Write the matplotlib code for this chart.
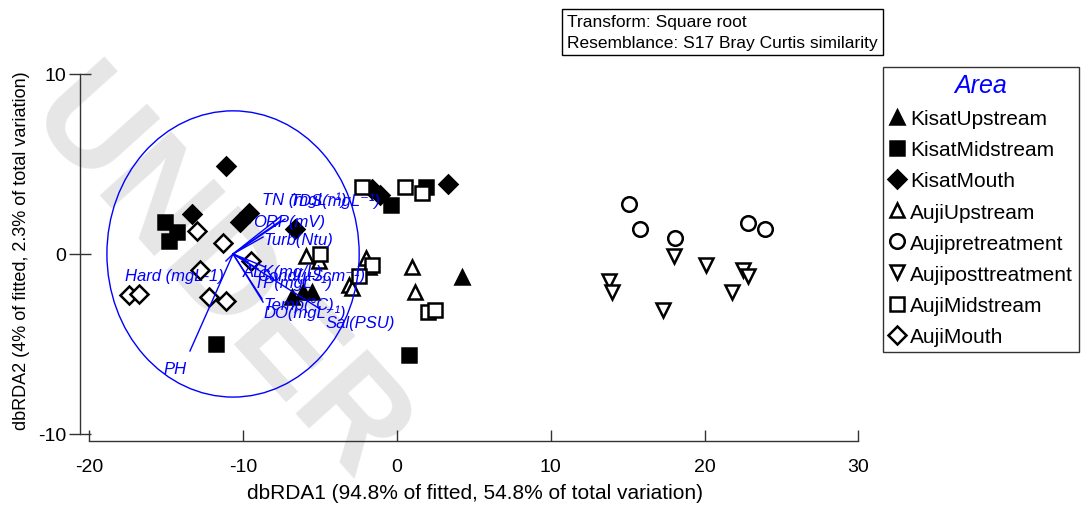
import matplotlib
matplotlib.use("Agg")
import matplotlib.pyplot as plt
from matplotlib.patches import Ellipse

plt.rcParams['font.family'] = ['Liberation Sans', 'DejaVu Sans']
plt.rcParams['axes.unicode_minus'] = False

# sample scores on dbRDA1 / dbRDA2
kisat_up_x = [4.2, -6.8, -6.1, -5.5]
kisat_up_y = [-1.3, -2.4, -2.1, -2.1]
kisat_mid_x = [-15.1, -14.3, -14.8, -11.8, -0.4, 1.9, 0.8]
kisat_mid_y = [1.8, 1.2, 0.7, -5.0, 2.7, 3.7, -5.6]
kisat_mouth_x = [-11.1, -13.3, -10.2, -9.6, -6.6, -1.6, -1.1, 3.3]
kisat_mouth_y = [4.9, 2.2, 1.8, 2.3, 1.4, 3.6, 3.3, 3.9]
auji_up_x = [-5.9, -5.1, -2.0, -3.1, -2.9, -1.8, 1.0, 1.2]
auji_up_y = [-0.1, -0.4, -0.2, -1.7, -1.9, -0.7, -0.7, -2.1]
auji_pre_x = [15.1, 15.8, 18.1, 22.8, 23.9]
auji_pre_y = [2.8, 1.4, 0.9, 1.7, 1.4]
auji_post_x = [18.0, 20.1, 13.8, 14.0, 17.3, 21.8, 22.5, 22.8]
auji_post_y = [-0.1, -0.6, -1.5, -2.1, -3.1, -2.1, -0.9, -1.2]
auji_mid_x = [-5.0, -1.6, -2.5, -2.3, 0.5, 1.6, 2.0, 2.5]
auji_mid_y = [0.0, -0.6, -1.2, 3.7, 3.7, 3.4, -3.2, -3.1]
auji_mouth_x = [-17.4, -16.8, -13.0, -11.3, -12.8, -12.2, -11.1, -9.5]
auji_mouth_y = [-2.3, -2.2, 1.3, 0.6, -0.9, -2.4, -2.6, -0.4]

# environmental vectors (relative to vector origin) and their labels
vec_names = ['TN (mgL⁻¹)', 'TDS(mgL⁻¹)', 'ORP(mV)', 'Turb(Ntu)', 'ALK(mg/L)',
             'Cond(µScm⁻¹)', 'TP(mgL⁻¹)', 'Temp(°C)', 'DO(mgL⁻¹)', 'Sal(PSU)',
             'Hard (mgL-1)', 'PH']
vec_dx = [3.06, 3.38, 3.06, 1.95, 0.98, 2.08, 1.63, 1.89, 1.95, 5.66, -0.46, -2.8]
vec_dy = [2.06, 1.94, 1.83, 0.94, -0.44, -0.72, -0.83, -2.5, -2.67, -3.06, -0.39, -5.39]
lab_x = [-8.78, -6.96, -9.36, -8.71, -10.01, -9.10, -9.30, -8.71, -8.71, -4.62, -11.25, -15.2]
lab_y = [3.06, 3.0, 1.83, 0.78, -1.0, -1.17, -1.56, -2.83, -3.22, -3.83, -1.17, -6.39]
vec_origin = (-10.66, 0.0)
circle_w, circle_h = 16.4, 15.9

groups = [
    ('KisatUpstream', kisat_up_x, kisat_up_y, '^', 'black'),
    ('KisatMidstream', kisat_mid_x, kisat_mid_y, 's', 'black'),
    ('KisatMouth', kisat_mouth_x, kisat_mouth_y, 'D', 'black'),
    ('AujiUpstream', auji_up_x, auji_up_y, '^', 'white'),
    ('Aujipretreatment', auji_pre_x, auji_pre_y, 'o', 'white'),
    ('Aujiposttreatment', auji_post_x, auji_post_y, 'v', 'white'),
    ('AujiMidstream', auji_mid_x, auji_mid_y, 's', 'white'),
    ('AujiMouth', auji_mouth_x, auji_mouth_y, 'D', 'white'),
]
msize = {'^': 10.5, 's': 10.5, 'D': 9, 'o': 10.5, 'v': 10.5}

W, H = 1081, 510
fig = plt.figure(figsize=(W / 100, H / 100), dpi=100)

# faint watermark behind the plot
fig.text(215 / W, 1 - 280 / H, 'UNDER', fontsize=100, color='#e6e6e6',
         rotation=-48, ha='center', va='center', zorder=0, fontweight='bold')

ax = fig.add_axes([80 / W, 68 / H, 790 / W, 382 / H])
ax.set_zorder(2)
ax.patch.set_alpha(0)
ax.set_xlim(-20.61, 30.75)
ax.set_ylim(-10.39, 10.83)

for name, xs, ys, m, fc in groups:
    ax.plot(xs, ys, linestyle='none', marker=m, markersize=msize[m],
            markerfacecolor=fc, markeredgecolor='black', markeredgewidth=1.8,
            label=name, zorder=3)

ox, oy = vec_origin
ax.add_patch(Ellipse((ox, oy), circle_w, circle_h,
                     fill=False, edgecolor='blue', linewidth=1.0, zorder=4))
for name, dx, dy, lx, ly in zip(vec_names, vec_dx, vec_dy, lab_x, lab_y):
    ax.plot([ox, ox + dx], [oy, oy + dy], color='blue', linewidth=1.0, zorder=4)
    ha = 'right' if name.startswith('Hard') else 'left'
    ax.text(lx, ly, name, color='blue', fontsize=12, style='italic',
            ha=ha, va='center', zorder=5)

for s in ['top', 'right']:
    ax.spines[s].set_visible(False)
ax.spines['left'].set_bounds(-10, 10)
ax.spines['bottom'].set_bounds(-20, 30)
for s in ['left', 'bottom']:
    ax.spines[s].set_color('#333333')
    ax.spines[s].set_linewidth(1.0)
ax.set_xticks([-20, -10, 0, 10, 20, 30])
ax.set_yticks([-10, 0, 10])
ax.tick_params(axis='y', direction='inout', length=16, width=1, color='#333333',
               labelsize=14, pad=2)
ax.tick_params(axis='x', direction='in', length=8, width=1, color='#333333',
               labelsize=14, pad=12)
ax.set_xlabel('dbRDA1 (94.8% of fitted, 54.8% of total variation)', fontsize=15,
              labelpad=6)
ax.set_ylabel('dbRDA2 (4% of fitted, 2.3% of total variation)', fontsize=13,
              labelpad=6)

leg = fig.legend(loc='upper left', bbox_to_anchor=(883 / W, 1 - 68 / H),
                 frameon=True, fancybox=False, edgecolor='black',
                 fontsize=15, title='Area', handlelength=0.7, handletextpad=0.3,
                 labelspacing=0.58, borderpad=0.3, borderaxespad=0)
leg.get_title().set_color('blue')
leg.get_title().set_fontstyle('italic')
leg.get_title().set_fontsize(18)
leg.get_frame().set_linewidth(1.0)

fig.text(567 / W, 1 - 33 / H, 'Transform: Square root\nResemblance: S17 Bray Curtis similarity',
         fontsize=12.5, ha='left', va='center', linespacing=1.45,
         bbox=dict(boxstyle='square,pad=0.3', facecolor='white', edgecolor='black',
                   linewidth=1.0))

fig.savefig('out.png', dpi=100)
